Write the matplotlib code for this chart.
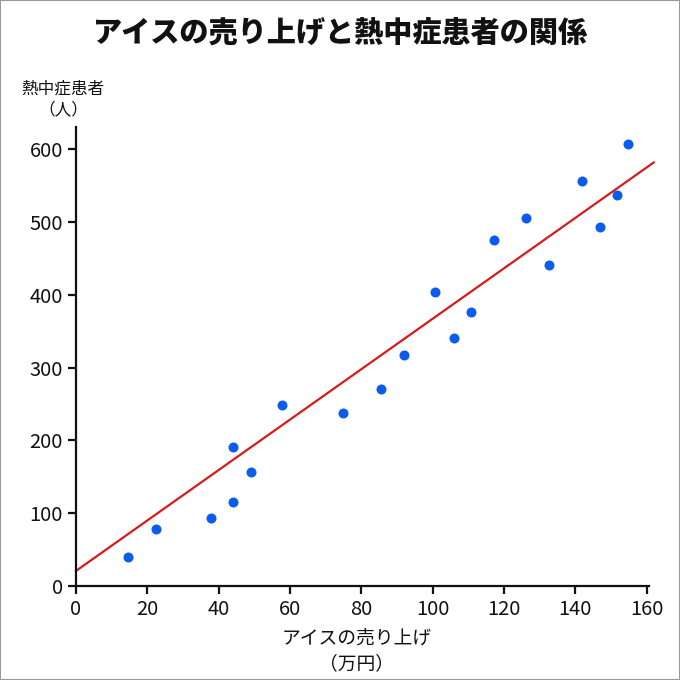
import matplotlib
matplotlib.use("Agg")
import matplotlib.pyplot as plt
from matplotlib.patches import Rectangle

plt.rcParams['font.family'] = ['Noto Sans CJK JP', 'DejaVu Sans']

# ice cream sales (10k yen) vs heatstroke patients
sales = [14.7, 22.4, 37.8, 43.9, 43.9, 49.1, 57.8, 74.9, 85.4, 92.1,
         100.8, 105.9, 110.7, 117.3, 126.1, 132.6, 141.9, 146.9, 151.7, 154.8]
patients = [40, 78, 93, 115, 191, 157, 249, 237, 270, 317,
            404, 341, 376, 475, 506, 441, 556, 493, 537, 607]

# trend line
trend_x = [0, 162]
trend_intercept = 21
trend_slope = 3.46

x_ticks = [0, 20, 40, 60, 80, 100, 120, 140, 160]
y_ticks = [0, 100, 200, 300, 400, 500, 600]

title = "アイスの売り上げと熱中症患者の関係"
x_label = "アイスの売り上げ\n（万円）"
y_label = "熱中症患者\n（人）"

fig = plt.figure(figsize=(6.8, 6.8), dpi=100)
ax = fig.add_axes([0.1118, 0.138, 0.8422, 0.675])

ax.scatter(sales, patients, s=52, color='#0b5ced', zorder=3, linewidths=0)
trend_y = [trend_intercept + trend_slope * v for v in trend_x]
ax.plot(trend_x, trend_y, color='#d91a1a', lw=1.6, clip_on=False, zorder=2)

ax.set_xlim(0, 160.6)
ax.set_ylim(0, 630)
ax.set_xticks(x_ticks)
ax.set_yticks(y_ticks)

for side in ('top', 'right'):
    ax.spines[side].set_visible(False)
for side in ('left', 'bottom'):
    ax.spines[side].set_linewidth(1.6)
    ax.spines[side].set_color('#111111')

ax.tick_params(direction='out', length=5.5, width=1.6, color='#111111',
               labelsize=14.5, labelcolor='#111111')
ax.tick_params(axis='x', pad=4)
ax.tick_params(axis='y', pad=4)

fig.text(0.5, 1 - 33 / 680, title, ha='center', va='center',
         fontsize=21, fontweight='heavy', color='#111111')
fig.text(357 / 680, 1 - 651 / 680, x_label, ha='center', va='center',
         fontsize=13.5, color='#111111', linespacing=1.3)
fig.text(63 / 680, 1 - 99 / 680, y_label, ha='center', va='center',
         fontsize=12, color='#111111', linespacing=1.3)

# thin grey frame around the picture
fig.add_artist(Rectangle((0, 0), 1, 1, transform=fig.transFigure,
                         fill=False, edgecolor='#999999', lw=1.5))

fig.savefig("out.png", dpi=100, facecolor='white')
